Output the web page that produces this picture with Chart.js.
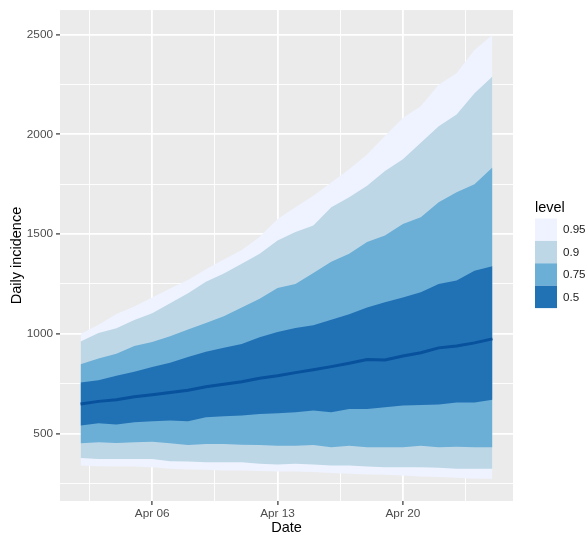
<!DOCTYPE html>
<html>
<head>
<meta charset="utf-8">
<script src="https://cdn.jsdelivr.net/npm/chart.js@4/dist/chart.umd.min.js"></script>
<style>
  html, body { margin: 0; padding: 0; background: #ffffff; }
  #wrap { width: 588px; height: 535px; position: relative; }
</style>
</head>
<body>
<div id="wrap"><canvas id="c" width="588" height="535"></canvas></div>
<script>
// Day of April for each forecast date
const days = [2, 3, 4, 5, 6, 7, 8, 9, 10, 11, 12, 13, 14, 15, 16, 17, 18, 19, 20, 21, 22, 23, 24, 25];

// Prediction interval bounds of daily incidence
const lower95 = [341, 337, 336, 336, 332, 324, 321, 319, 316, 316, 313, 311, 311, 308, 303, 299, 296, 294, 291, 286, 283, 280, 274, 274];
const lower90 = [379, 374, 374, 374, 374, 362, 361, 357, 357, 357, 349, 346, 349, 346, 341, 341, 336, 332, 332, 332, 329, 324, 324, 324];
const lower75 = [452, 457, 454, 457, 460, 452, 444, 449, 449, 445, 444, 440, 440, 444, 432, 440, 432, 432, 432, 440, 432, 435, 432, 432];
const lower50 = [541, 553, 546, 558, 563, 566, 563, 583, 588, 591, 599, 603, 608, 616, 608, 624, 624, 632, 641, 644, 646, 657, 657, 670];
const median  = [649, 662, 670, 685, 695, 707, 718, 735, 748, 760, 778, 790, 806, 820, 836, 853, 872, 869, 889, 906, 930, 939, 955, 975];
const upper50 = [757, 768, 790, 811, 834, 856, 884, 911, 930, 950, 983, 1010, 1030, 1043, 1071, 1099, 1132, 1159, 1182, 1209, 1250, 1267, 1316, 1339];
const upper75 = [848, 877, 901, 939, 960, 988, 1022, 1055, 1088, 1132, 1176, 1230, 1250, 1305, 1362, 1402, 1460, 1493, 1551, 1584, 1659, 1709, 1750, 1833];
const upper90 = [962, 1004, 1028, 1070, 1103, 1153, 1203, 1261, 1302, 1352, 1402, 1468, 1510, 1543, 1634, 1684, 1742, 1816, 1875, 1958, 2040, 2099, 2206, 2289];
const upper95 = [1000, 1046, 1100, 1137, 1182, 1228, 1270, 1324, 1373, 1420, 1485, 1576, 1634, 1692, 1758, 1825, 1899, 1991, 2082, 2140, 2248, 2306, 2422, 2497];

// Axis ticks
const xTickDays = [6, 13, 20];
const xTickLabels = ['Apr 06', 'Apr 13', 'Apr 20'];
const yTickValues = [500, 1000, 1500, 2000, 2500];

// Legend entries (widest interval first)
const levels = ['0.95', '0.9', '0.75', '0.5'];
const levelColors = ['#EFF3FF', '#BDD7E7', '#6BAED6', '#2171B5'];
const medianColor = '#08519C';

const FONT = "'Liberation Sans', Arial, Helvetica, sans-serif";

const pts = arr => days.map((d, i) => ({ x: d, y: arr[i] }));

// x range with 5% expansion around the data
const xSpan = days[days.length - 1] - days[0];
const xMin = days[0] - 0.05 * xSpan;
const xMax = days[days.length - 1] + 0.05 * xSpan;
const yMin = 163, yMax = 2622;

// major + minor break positions
const xMinor = [];
for (let i = 0; i <= xTickDays.length; i++) {
  const prev = i === 0 ? xTickDays[0] - 7 : xTickDays[i - 1];
  const mid = prev + 3.5;
  if (mid > xMin && mid < xMax) xMinor.push(mid);
}
const yStep = yTickValues[1] - yTickValues[0];
const yAll = [];
for (let v = yTickValues[0] - yStep / 2; v <= yMax; v += yStep / 2) if (v > yMin) yAll.push(v);

const band = (upper, fillTarget, color) => ({
  data: pts(upper),
  fill: { target: fillTarget },
  backgroundColor: color,
  borderWidth: 0,
  pointRadius: 0,
  tension: 0
});
const edge = lower => ({
  data: pts(lower),
  fill: false,
  borderWidth: 0,
  borderColor: 'rgba(0,0,0,0)',
  pointRadius: 0,
  tension: 0
});

const panelBg = {
  id: 'panelBg',
  beforeDraw(chart) {
    const { ctx, chartArea: a } = chart;
    ctx.save();
    ctx.fillStyle = '#EBEBEB';
    ctx.fillRect(a.left, a.top, a.right - a.left, a.bottom - a.top);
    ctx.restore();
  }
};

const levelLegend = {
  id: 'levelLegend',
  afterDraw(chart) {
    const ctx = chart.ctx;
    const x0 = 535, top = 218.5, h = 22.4, w = 22;
    ctx.save();
    ctx.fillStyle = '#000000';
    ctx.font = '14.5px ' + FONT;
    ctx.textAlign = 'left';
    ctx.textBaseline = 'alphabetic';
    ctx.fillText('level', x0, 211.5);
    ctx.font = '11.6px ' + FONT;
    ctx.textBaseline = 'middle';
    levels.forEach((lab, i) => {
      const y = top + i * h;
      ctx.fillStyle = levelColors[i];
      ctx.fillRect(x0, y, w, h);
      ctx.fillStyle = '#1A1A1A';
      ctx.fillText(lab, x0 + w + 6, y + h / 2 + 0.5);
    });
    ctx.restore();
  }
};

new Chart(document.getElementById('c'), {
  type: 'line',
  data: {
    datasets: [
      { data: pts(median), borderColor: medianColor, borderWidth: 3, pointRadius: 0, fill: false, tension: 0 },
      band(upper50, 2, levelColors[3]), edge(lower50),
      band(upper75, 4, levelColors[2]), edge(lower75),
      band(upper90, 6, levelColors[1]), edge(lower90),
      band(upper95, 8, levelColors[0]), edge(lower95)
    ]
  },
  options: {
    responsive: false,
    animation: false,
    layout: { padding: { top: 6, right: 75, left: 0, bottom: 0 } },
    plugins: { legend: { display: false }, tooltip: { enabled: false } },
    scales: {
      x: {
        type: 'linear',
        min: xMin,
        max: xMax,
        afterBuildTicks: s => { s.ticks = xTickDays.concat(xMinor).sort((a, b) => a - b).map(v => ({ value: v })); },
        afterFit: s => { s.height = 34; },
        border: { display: false },
        grid: {
          color: '#FFFFFF',
          lineWidth: c => (xTickDays.includes(c.tick.value) ? 1.8 : 0.9),
          tickColor: c => (xTickDays.includes(c.tick.value) ? '#333333' : 'rgba(0,0,0,0)'),
          tickLength: 4,
          tickWidth: 1.2
        },
        ticks: {
          autoSkip: false,
          maxRotation: 0,
          padding: 2,
          color: '#4D4D4D',
          font: { family: FONT, size: 11.8 },
          callback: v => { const i = xTickDays.indexOf(v); return i >= 0 ? xTickLabels[i] : ''; }
        },
        title: {
          display: true, text: 'Date', color: '#000000',
          font: { family: FONT, size: 14.5, lineHeight: 1 },
          padding: { top: 0, bottom: 0 }
        }
      },
      y: {
        type: 'linear',
        min: yMin,
        max: yMax,
        afterBuildTicks: s => { s.ticks = yAll.map(v => ({ value: v })); },
        afterFit: s => { s.width = 60; },
        border: { display: false },
        grid: {
          color: '#FFFFFF',
          lineWidth: c => (yTickValues.includes(c.tick.value) ? 1.8 : 0.9),
          tickColor: c => (yTickValues.includes(c.tick.value) ? '#333333' : 'rgba(0,0,0,0)'),
          tickLength: 4,
          tickWidth: 1.2
        },
        ticks: {
          autoSkip: false,
          padding: 3,
          color: '#4D4D4D',
          font: { family: FONT, size: 11.8 },
          callback: v => (yTickValues.includes(v) ? String(v) : '')
        },
        title: {
          display: true, text: 'Daily incidence', color: '#000000',
          font: { family: FONT, size: 14.5, lineHeight: 1 },
          padding: { top: 9.5, bottom: 0 }
        }
      }
    }
  },
  plugins: [panelBg, levelLegend]
});
</script>
</body>
</html>
